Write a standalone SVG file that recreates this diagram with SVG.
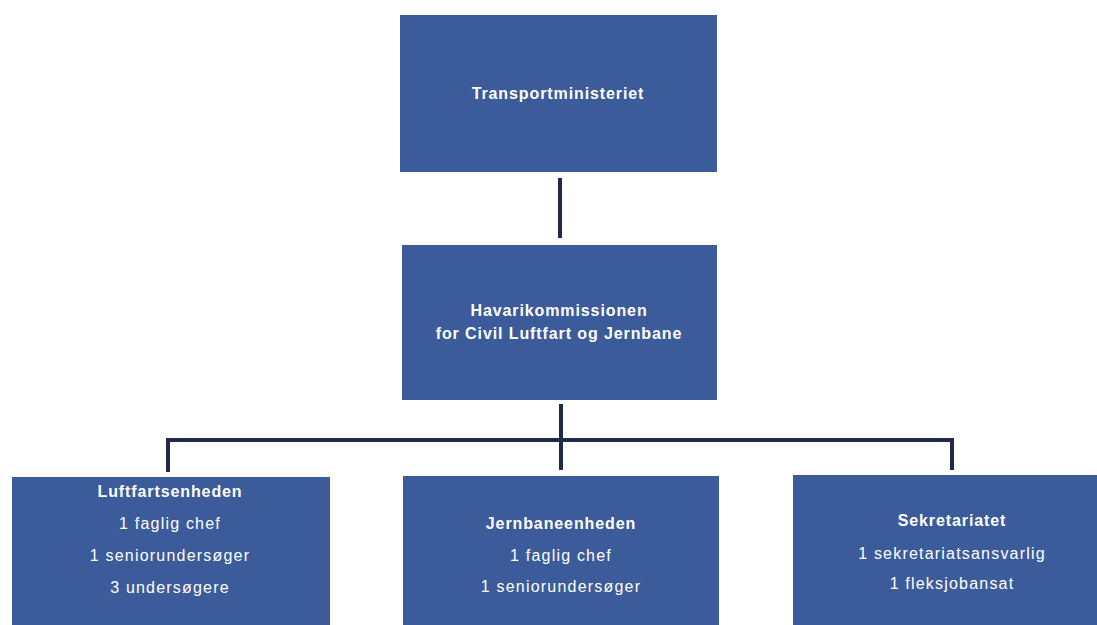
<svg xmlns="http://www.w3.org/2000/svg" width="1097" height="625" viewBox="0 0 1097 625">
<style>
.box{fill:#3b5b9a;}
.t{font-family:"Liberation Sans",Arial,sans-serif;fill:#fff;text-anchor:middle;font-size:16px;letter-spacing:1.2px;}
.b{font-weight:bold;letter-spacing:0.9px;}
.c{stroke:#1e2a48;stroke-width:4;fill:none;}
</style>
<rect width="1097" height="625" fill="#fff"/>
<g id="connectors">
<line class="c" x1="560" y1="178" x2="560" y2="238"/>
<line class="c" x1="561" y1="404" x2="561" y2="470"/>
<polyline class="c" points="168,472 168,440 952,440 952,470"/>
</g>
<g id="transportministeriet">
<rect class="box" x="400" y="15" width="317" height="157"/>
<text class="t b" x="558" y="99">Transportministeriet</text>
</g>
<g id="havarikommissionen">
<rect class="box" x="402" y="245" width="315" height="155"/>
<text class="t b" x="559" y="316">Havarikommissionen</text>
<text class="t b" x="559" y="339">for Civil Luftfart og Jernbane</text>
</g>
<g id="luftfartsenheden">
<rect class="box" x="12" y="477" width="318" height="150"/>
<text class="t b" x="170" y="497">Luftfartsenheden</text>
<text class="t" x="170" y="529">1 faglig chef</text>
<text class="t" x="170" y="561">1 seniorundersøger</text>
<text class="t" x="170" y="593">3 undersøgere</text>
</g>
<g id="jernbaneenheden">
<rect class="box" x="403" y="476" width="316" height="151"/>
<text class="t b" x="561" y="529">Jernbaneenheden</text>
<text class="t" x="561" y="561">1 faglig chef</text>
<text class="t" x="561" y="592">1 seniorundersøger</text>
</g>
<g id="sekretariatet">
<rect class="box" x="793" y="475" width="306" height="152"/>
<text class="t b" x="952" y="526">Sekretariatet</text>
<text class="t" x="952" y="559">1 sekretariatsansvarlig</text>
<text class="t" x="952" y="589">1 fleksjobansat</text>
</g>
</svg>
